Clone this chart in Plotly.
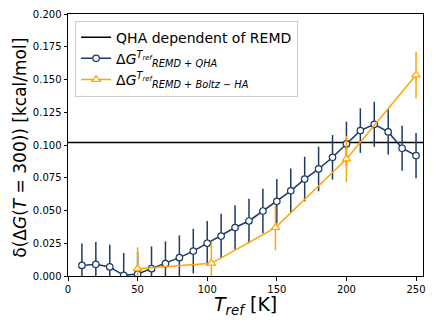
import plotly.graph_objects as go

# reference temperatures [K]
t_remd = [10, 20, 30, 40, 50, 60, 70, 80, 90, 100, 110, 120, 130,
          140, 150, 160, 170, 180, 190, 200, 210, 220, 230, 240, 250]
d_remd_qha = [0.0081, 0.0089, 0.0069, 0.0005, 0.0015, 0.0056, 0.0094, 0.0140,
              0.0190, 0.0250, 0.0305, 0.0370, 0.0420, 0.0496, 0.0570, 0.0650,
              0.0740, 0.0817, 0.0906, 0.1008, 0.1110, 0.1158, 0.1100, 0.0975,
              0.0919]
err_remd_qha = [0.0168, 0.0170, 0.0170, 0.0170, 0.0170, 0.0170, 0.0170, 0.0170,
                0.0170, 0.0170, 0.0170, 0.0170, 0.0170, 0.0170, 0.0170, 0.0170,
                0.0170, 0.0170, 0.0170, 0.0170, 0.0170, 0.0172, 0.0172, 0.0172,
                0.0172]

t_boltz = [50, 103, 149, 200, 250]
d_boltz = [0.0055, 0.0097, 0.0370, 0.0893, 0.1534]
err_boltz = [0.0165, 0.0165, 0.0173, 0.0176, 0.0178]

qha_level = 0.102
x_span = [0, 255]

navy = '#1b3a66'
orange = '#ffa500'

fig = go.Figure()

# QHA reference level
fig.add_trace(go.Scatter(
    x=x_span, y=[qha_level, qha_level],
    mode='lines',
    line=dict(color='black', width=1.5),
    name='QHA dependent of REMD'
))

fig.add_trace(go.Scatter(
    x=t_remd, y=d_remd_qha,
    mode='lines+markers',
    line=dict(color=navy, width=1.5),
    marker=dict(symbol='circle', size=6.5, color='white',
                line=dict(color=navy, width=1.2)),
    error_y=dict(type='data', array=err_remd_qha, color=navy,
                 thickness=1.5, width=0),
    name='Δ<i>G</i><sup><i>T<sub>ref</sub></i></sup><sub><i>REMD + QHA</i></sub>'
))

fig.add_trace(go.Scatter(
    x=t_boltz, y=d_boltz,
    mode='lines+markers',
    line=dict(color=orange, width=1.5),
    marker=dict(symbol='triangle-up', size=7.5, color='white',
                line=dict(color=orange, width=1.2)),
    error_y=dict(type='data', array=err_boltz, color=orange,
                 thickness=1.5, width=0),
    name='Δ<i>G</i><sup><i>T<sub>ref</sub></i></sup><sub><i>REMD + Boltz − HA</i></sub>'
))

axis_common = dict(
    showgrid=False, zeroline=False, automargin=False,
    showline=True, linecolor='black', linewidth=1, mirror=True,
    ticks='outside', ticklen=3.5, tickwidth=1, tickcolor='black',
    tickfont=dict(size=10, color='black'),
)

# the page body has an 8px margin, so the figure is sized to fit the window
fig.update_layout(
    width=428, height=319,
    margin=dict(l=60, r=13, t=6, b=51),
    paper_bgcolor='white', plot_bgcolor='white',
    font=dict(family='DejaVu Sans', color='black'),
    xaxis=dict(range=x_span, tickvals=[0, 50, 100, 150, 200, 250],
               **axis_common),
    yaxis=dict(range=[0, 0.2], tickvals=[0, 0.025, 0.05, 0.075, 0.1, 0.125,
                                        0.15, 0.175, 0.2],
               tickformat='.3f',
               **axis_common),
    legend=dict(x=0.02, y=0.975, xanchor='left', yanchor='top',
                bgcolor='rgba(255,255,255,0.8)', bordercolor='#cccccc',
                borderwidth=1, font=dict(size=14), tracegroupgap=0),
    showlegend=True,
    annotations=[
        dict(text='<i>T<sub>ref</sub></i> [K]', xref='paper', yref='paper',
             x=0.5, y=-0.112, xanchor='center', yanchor='middle',
             showarrow=False, font=dict(size=19)),
        dict(text='δ(Δ<i>G</i>(<i>T</i> = 300)) [kcal/mol]',
             xref='paper', yref='paper', x=-0.135, y=0.49,
             xanchor='center', yanchor='middle', textangle=-90,
             showarrow=False, font=dict(size=17)),
    ],
)

fig.write_html("out.html")
